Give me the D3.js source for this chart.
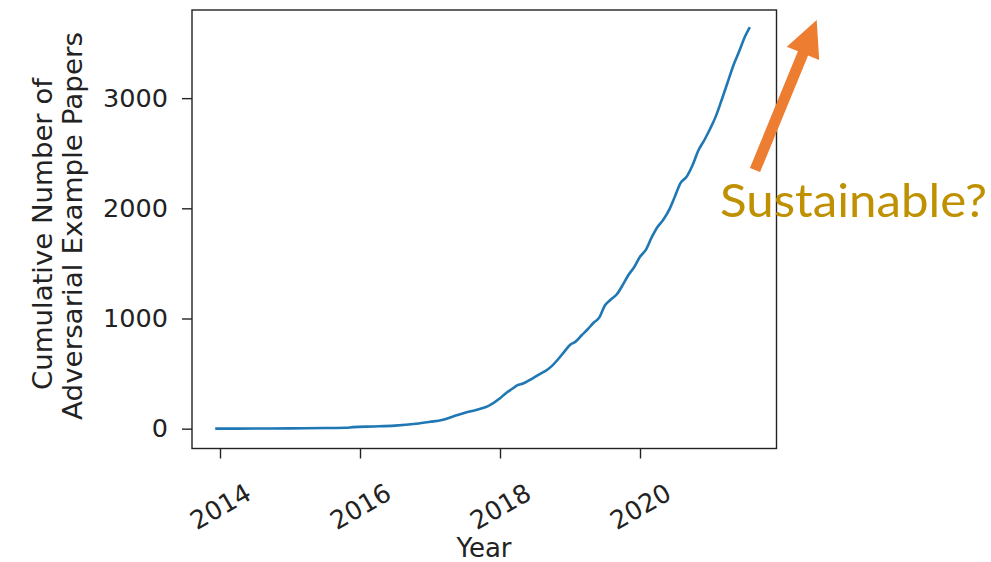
<!DOCTYPE html>
<html>
<head>
<meta charset="utf-8">
<script src="https://cdn.jsdelivr.net/npm/d3@7"></script>
<style>
  html, body { margin: 0; padding: 0; background: #fff; }
  svg { display: block; }
</style>
</head>
<body>
<svg id="chart" width="991" height="562"></svg>
<script>
// ---- data ----
const years = [2013.95, 2014.5, 2015.0, 2015.5, 2015.8, 2015.9, 2016.2, 2016.5, 2016.8, 2017.0,
  2017.17, 2017.33, 2017.5, 2017.67, 2017.83,
  2018.00, 2018.08, 2018.17, 2018.25, 2018.33, 2018.42, 2018.50, 2018.58, 2018.67, 2018.75, 2018.83, 2018.92,
  2019.00, 2019.08, 2019.17, 2019.25, 2019.33, 2019.42, 2019.50, 2019.58, 2019.67, 2019.75, 2019.83, 2019.92,
  2020.00, 2020.08, 2020.17, 2020.25, 2020.33, 2020.42, 2020.50, 2020.58, 2020.67, 2020.75, 2020.83, 2020.92,
  2021.00, 2021.08, 2021.17, 2021.25, 2021.33, 2021.42, 2021.50, 2021.56];
const papers = [0, 1, 3, 6, 8, 14, 20, 28, 45, 62,
  78, 110, 145, 172, 205,
  276, 320, 360, 395, 410, 440, 470, 500, 533, 575, 630, 700,
  760, 790, 850, 900, 957, 1010, 1120, 1170, 1220, 1300, 1390, 1470,
  1560, 1620, 1740, 1830, 1894, 1990, 2110, 2230, 2290, 2390, 2520, 2620,
  2720, 2830, 2990, 3140, 3290, 3430, 3560, 3634];
const xTicks = [2014, 2016, 2018, 2020];
const yTicks = [0, 1000, 2000, 3000];
const yTitleLines = ["Cumulative Number of", "Adversarial Example Papers"];
const xTitle = "Year";
const annotation = "Sustainable?";

(function () {
const svg = d3.select("#chart");
svg.append("rect").attr("width", 991).attr("height", 562).attr("fill", "#fff");

const mL = 192, mR = 776.5, mT = 10, mB = 448.5;
const x = d3.scaleLinear().domain([2013.6, 2021.95]).range([mL, mR]);
const y = d3.scaleLinear().domain([-180, 3800]).range([mB, mT]);

const font = "DejaVu Sans, sans-serif";
const ink = "#222";
const fs = 25.5;

// line
const pts = years.map((yr, i) => [yr, papers[i]]);
svg.append("path")
  .datum(pts)
  .attr("fill", "none")
  .attr("stroke", "#1f77b4")
  .attr("stroke-width", 2.6)
  .attr("stroke-linejoin", "round")
  .attr("stroke-linecap", "square")
  .attr("d", d3.line().curve(d3.curveMonotoneX).x(d => x(d[0])).y(d => y(d[1])));

// y axis
const ya = svg.append("g").attr("transform", `translate(${mL},0)`)
  .call(d3.axisLeft(y).tickValues(yTicks).tickSize(10).tickPadding(14).tickFormat(d3.format("d")));
ya.select(".domain").remove();
ya.selectAll("line").attr("stroke", ink).attr("stroke-width", 1.4);
ya.selectAll("text").attr("font-family", font).attr("font-size", fs).attr("fill", ink);

// x axis
const xa = svg.append("g").attr("transform", `translate(0,${mB})`)
  .call(d3.axisBottom(x).tickValues(xTicks).tickSize(10).tickFormat(d3.format("d")));
xa.select(".domain").remove();
xa.selectAll("line").attr("stroke", ink).attr("stroke-width", 1.4);
xa.selectAll("text")
  .attr("font-family", font).attr("font-size", fs).attr("fill", ink)
  .attr("y", 0).attr("dy", "0.35em")
  .attr("text-anchor", "middle")
  .attr("transform", "translate(0,58) rotate(-30)");

// frame
svg.append("rect")
  .attr("x", mL).attr("y", mT)
  .attr("width", mR - mL).attr("height", mB - mT)
  .attr("fill", "none").attr("stroke", ink).attr("stroke-width", 1.4);

// axis titles
svg.append("text")
  .attr("x", 484).attr("y", 557)
  .attr("text-anchor", "middle")
  .attr("font-family", font).attr("font-size", 26).attr("fill", ink)
  .text(xTitle);

const titleCfg = [{bx: 52, cy: 234, len: 312}, {bx: 82, cy: 226, len: 388}];
titleCfg.forEach((c, i) => {
  svg.append("text")
    .attr("transform", `translate(${c.bx},${c.cy}) rotate(-90)`)
    .attr("text-anchor", "middle")
    .attr("font-family", font).attr("font-size", 26).attr("fill", ink)
    .attr("textLength", c.len).attr("lengthAdjust", "spacingAndGlyphs")
    .text(yTitleLines[i]);
});

// arrow annotation
const tail = [755, 170], tip = [816.7, 20];
const dx = tip[0] - tail[0], dy = tip[1] - tail[1];
const len = Math.hypot(dx, dy);
const ux = dx / len, uy = dy / len, px = -uy, py = ux;
const shaftW = 11, headW = 35, headL = 36;
const bx0 = tip[0] - ux * headL, by0 = tip[1] - uy * headL;
const arrowPts = [
  [tail[0] + px * shaftW / 2, tail[1] + py * shaftW / 2],
  [bx0 + px * shaftW / 2, by0 + py * shaftW / 2],
  [bx0 + px * headW / 2, by0 + py * headW / 2],
  tip,
  [bx0 - px * headW / 2, by0 - py * headW / 2],
  [bx0 - px * shaftW / 2, by0 - py * shaftW / 2],
  [tail[0] - px * shaftW / 2, tail[1] - py * shaftW / 2]
];
svg.append("polygon")
  .attr("points", arrowPts.map(p => p.join(",")).join(" "))
  .attr("fill", "#ED7D31");

svg.append("text")
  .attr("x", 720).attr("y", 217)
  .attr("font-family", "Lato, 'Open Sans', sans-serif")
  .attr("font-size", 47)
  .attr("textLength", 267).attr("lengthAdjust", "spacingAndGlyphs")
  .attr("fill", "#BF9000")
  .text(annotation);
})();
</script>
</body>
</html>
